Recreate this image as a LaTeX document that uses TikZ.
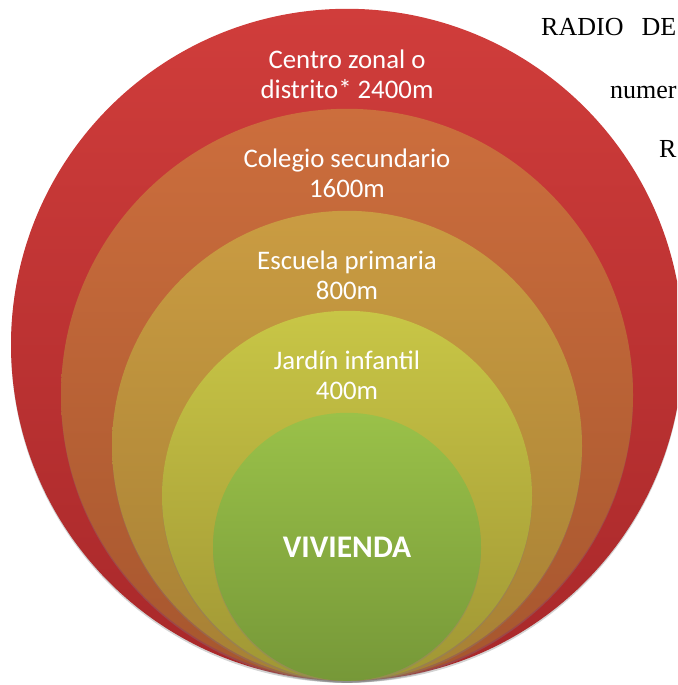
\documentclass[tikz,border=0pt]{standalone}
\usepackage{fontspec}
\newfontfamily\calfont{Carlito}
\newfontfamily\timesfont{Liberation Serif}
\usetikzlibrary{positioning,shadows}

\tikzset{
    ring/.style={circle, inner sep=0pt, anchor=south, shading=axis, shading angle=0,
        drop shadow={opacity=0.35, shadow xshift=0pt, shadow yshift=-2pt}},
    lbl/.style={text=white, align=center, inner sep=0pt, font=\calfont\fontsize{26.8}{30}\selectfont},
    note/.style={anchor=base west, inner sep=0pt, font=\timesfont\fontsize{26}{30}\selectfont}
}

\begin{document}
\begin{tikzpicture}[x=1pt, y=-1pt]
    \useasboundingbox (0,0) rectangle (677,685);
    \clip (0,0) rectangle (677,685);

    % text of the page behind the figure
    \node[note] (radio) at (541,36) {RADIO\hspace{18pt}DE};
    \node[note] (numer) at (610,98) {numer};
    \node[note] (r) at (659,157) {R};

    \coordinate (base) at (347,681);

    \node[ring, minimum size=672pt, top color={rgb,255:red,208;green,61;blue,59}, bottom color={rgb,255:red,168;green,40;blue,42}] (distrito) at (base) {};
    \node[ring, minimum size=572pt, top color={rgb,255:red,204;green,110;blue,61}, bottom color={rgb,255:red,166;green,86;blue,46}] (colegio) at (base) {};
    \node[ring, minimum size=470pt, top color={rgb,255:red,202;green,156;blue,66}, bottom color={rgb,255:red,166;green,128;blue,52}] (escuela) at (base) {};
    \node[ring, minimum size=370pt, top color={rgb,255:red,200;green,198;blue,70}, bottom color={rgb,255:red,160;green,150;blue,52}] (jardin) at (base) {};
    \node[ring, minimum size=268pt, top color={rgb,255:red,154;green,193;blue,73}, bottom color={rgb,255:red,118;green,152;blue,56}] (vivienda) at (base) {};

    \node[lbl] (lbldistrito) at ([yshift=-66pt]distrito.north) {Centro zonal o\\distrito* 2400m};
    \node[lbl] (lblcolegio) at ([yshift=-65pt]colegio.north) {Colegio secundario\\1600m};
    \node[lbl] (lblescuela) at ([yshift=-65pt]escuela.north) {Escuela primaria\\800m};
    \node[lbl] (lbljardin) at ([yshift=-65pt]jardin.north) {Jardín infantil\\400m};
    \node[lbl, font=\calfont\bfseries\fontsize{31.5}{34}\selectfont] (lblvivienda) at (vivienda) {VIVIENDA};

\end{tikzpicture}
\end{document}
